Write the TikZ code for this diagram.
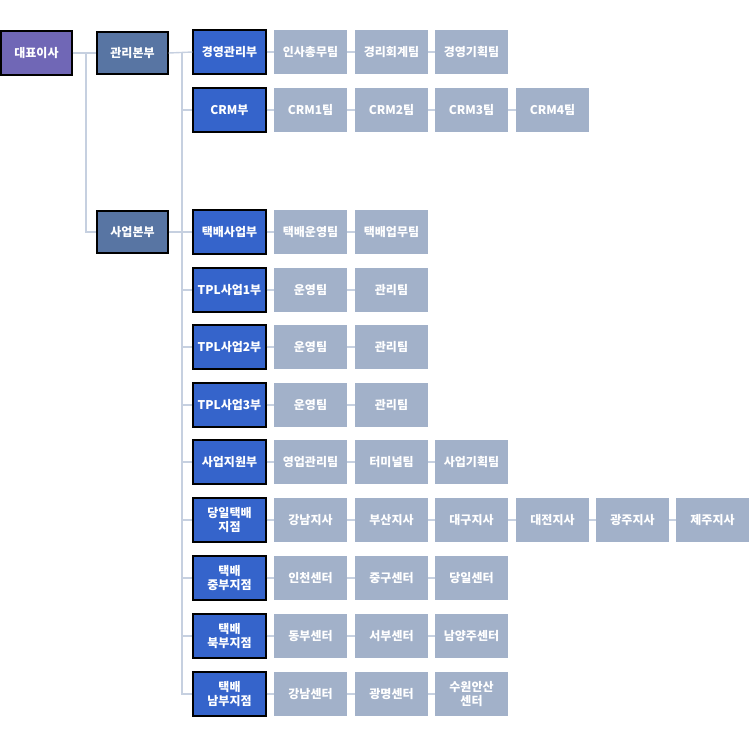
\documentclass[tikz,border=0pt]{standalone}
\usepackage{fontspec}
\setmainfont{Noto Sans CJK KR}
\begin{document}
\begin{tikzpicture}[x=1pt,y=-1pt,
  box/.style={minimum width=73pt,minimum height=44pt,inner sep=0pt,align=center,text=white,
    font=\bfseries\fontsize{12}{14}\selectfont},
  ceo/.style={box,fill=ceoc,draw=black,line width=1.2pt,minimum width=71pt},
  hq/.style={box,fill=hqc,draw=black,line width=1.2pt,minimum width=71pt,minimum height=42pt},
  dept/.style={box,fill=deptc,draw=black,line width=1.2pt},
  team/.style={box,fill=teamc},
  link/.style={draw=linec,line width=1.4pt}]
\definecolor{ceoc}{HTML}{7067B6}
\definecolor{hqc}{HTML}{5875A3}
\definecolor{deptc}{HTML}{3564CB}
\definecolor{teamc}{HTML}{A2B1C9}
\definecolor{linec}{HTML}{C6D0E0}
\useasboundingbox (0,0) rectangle (750,748);
% level 0/1
\node[ceo] (ceo) at (36.5,53) {대표이사};
\node[hq] (hq1) at (132.5,53) {관리본부};
\node[hq] (hq2) at (132.5,232) {사업본부};
% departments
\node[dept] (d1) at (229.5,52) {경영관리부};
\node[dept] (d2) at (229.5,110) {CRM부};
\node[dept] (d3) at (229.5,232) {택배사업부};
\node[dept] (d4) at (229.5,290) {TPL사업1부};
\node[dept] (d5) at (229.5,347) {TPL사업2부};
\node[dept] (d6) at (229.5,405) {TPL사업3부};
\node[dept] (d7) at (229.5,462) {사업지원부};
\node[dept] (d8) at (229.5,520) {당일택배\\지점};
\node[dept] (d9) at (229.5,578) {택배\\중부지점};
\node[dept] (d10) at (229.5,636) {택배\\북부지점};
\node[dept] (d11) at (229.5,694) {택배\\남부지점};
% teams
\node[team] (t1a) at (310.5,52) {인사총무팀};
\node[team] (t1b) at (391.5,52) {경리회계팀};
\node[team] (t1c) at (471.5,52) {경영기획팀};
\node[team] (t2a) at (310.5,110) {CRM1팀};
\node[team] (t2b) at (391.5,110) {CRM2팀};
\node[team] (t2c) at (471.5,110) {CRM3팀};
\node[team] (t2d) at (552.5,110) {CRM4팀};
\node[team] (t3a) at (310.5,232) {택배운영팀};
\node[team] (t3b) at (391.5,232) {택배업무팀};
\node[team] (t4a) at (310.5,290) {운영팀};
\node[team] (t4b) at (391.5,290) {관리팀};
\node[team] (t5a) at (310.5,347) {운영팀};
\node[team] (t5b) at (391.5,347) {관리팀};
\node[team] (t6a) at (310.5,405) {운영팀};
\node[team] (t6b) at (391.5,405) {관리팀};
\node[team] (t7a) at (310.5,462) {영업관리팀};
\node[team] (t7b) at (391.5,462) {터미널팀};
\node[team] (t7c) at (471.5,462) {사업기획팀};
\node[team] (t8a) at (310.5,520) {강남지사};
\node[team] (t8b) at (391.5,520) {부산지사};
\node[team] (t8c) at (471.5,520) {대구지사};
\node[team] (t8d) at (552.5,520) {대전지사};
\node[team] (t8e) at (632.5,520) {광주지사};
\node[team] (t8f) at (712.5,520) {제주지사};
\node[team] (t9a) at (310.5,578) {인천센터};
\node[team] (t9b) at (391.5,578) {중구센터};
\node[team] (t9c) at (471.5,578) {당일센터};
\node[team] (t10a) at (310.5,636) {동부센터};
\node[team] (t10b) at (391.5,636) {서부센터};
\node[team] (t10c) at (471.5,636) {남양주센터};
\node[team] (t11a) at (310.5,694) {강남센터};
\node[team] (t11b) at (391.5,694) {광명센터};
\node[team] (t11c) at (471.5,694) {수원안산\\센터};
% connectors
\coordinate (v1) at (86,53);
\coordinate (v2) at (182,52);
\coordinate (v2end) at (182,694);
\draw[link] (ceo.east) -- (hq1.west);
\draw[link] (v1) |- (hq2.west);
\draw[link] (hq1.east) -- (d1.west);
\draw[link] (hq2.east) -- (d3.west);
\draw[link] (v2) -- (v2end) -- (d11.west);
\foreach \d in {d2,d4,d5,d6,d7,d8,d9,d10}{
  \draw[link] (v2 |- \d.west) -- (\d.west);
}
\foreach \a/\b in {d1/t1a,t1a/t1b,t1b/t1c,
  d2/t2a,t2a/t2b,t2b/t2c,t2c/t2d,
  d3/t3a,t3a/t3b, d4/t4a,t4a/t4b, d5/t5a,t5a/t5b, d6/t6a,t6a/t6b,
  d7/t7a,t7a/t7b,t7b/t7c,
  d8/t8a,t8a/t8b,t8b/t8c,t8c/t8d,t8d/t8e,t8e/t8f,
  d9/t9a,t9a/t9b,t9b/t9c, d10/t10a,t10a/t10b,t10b/t10c,
  d11/t11a,t11a/t11b,t11b/t11c}{
  \draw[link] (\a.east) -- (\b.west);
}
\end{tikzpicture}
\end{document}
